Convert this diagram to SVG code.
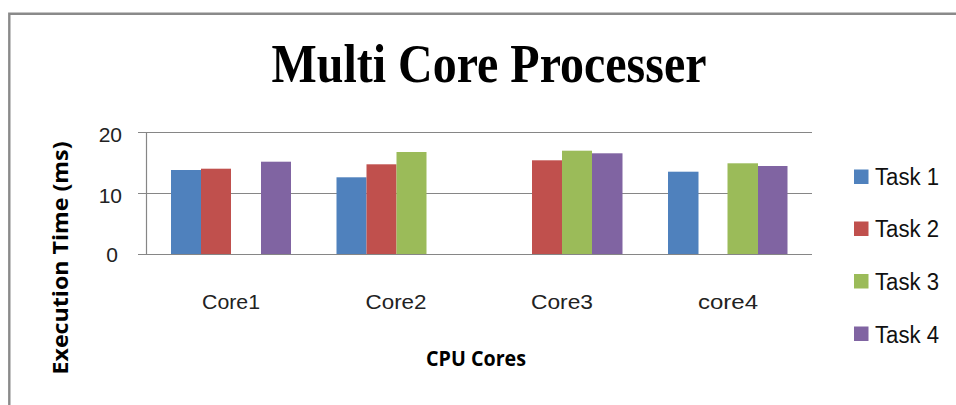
<svg xmlns="http://www.w3.org/2000/svg" width="956" height="405" viewBox="0 0 956 405">
<style>
.grid{stroke:#868686;stroke-width:1.2;fill:none}
.t1{fill:#4F81BD}.t2{fill:#C0504D}.t3{fill:#9BBB59}.t4{fill:#8064A2}
.lbl{font-family:"Liberation Sans",Arial,sans-serif;font-size:21px;fill:#222}
.bold{font-family:"Open Sans","Liberation Sans",Arial,sans-serif;font-weight:bold;font-size:21px;fill:#000}
.leg{font-family:"Liberation Sans",Arial,sans-serif;font-size:23px;fill:#111}
</style>
<rect width="956" height="405" fill="#fff"/>
<path d="M9.3 420 V13.8 H970" stroke="#8a8a8a" stroke-width="2.4" fill="none"/>
<g id="title">
<text x="489" y="82" text-anchor="middle" font-family="'Liberation Serif','Times New Roman',serif" font-weight="bold" font-size="54" textLength="435" lengthAdjust="spacingAndGlyphs">Multi Core Processer</text>
</g>
<g id="axes">
<path class="grid" d="M138 132.5 H812 M138 193.5 H812 M138 254.5 H812 M146.5 132 V254.5"/>
<text class="lbl" x="122" y="142" text-anchor="end">20</text>
<text class="lbl" x="122" y="203" text-anchor="end">10</text>
<text class="lbl" x="118" y="262" text-anchor="end">0</text>
<text class="bold" transform="translate(68,258) rotate(-90)" text-anchor="middle" textLength="233" lengthAdjust="spacingAndGlyphs">Execution Time (ms)</text>
<text class="bold" x="476" y="366" text-anchor="middle" textLength="100" lengthAdjust="spacingAndGlyphs">CPU Cores</text>
</g>
<g id="core1">
<rect class="t1" x="171" y="170" width="30" height="84"/>
<rect class="t2" x="201" y="168.7" width="30" height="85.3"/>
<rect class="t4" x="261" y="161.7" width="30" height="92.3"/>
<text class="lbl" x="231" y="309" text-anchor="middle" textLength="58" lengthAdjust="spacingAndGlyphs">Core1</text>
</g>
<g id="core2">
<rect class="t1" x="336.5" y="177.3" width="30" height="76.7"/>
<rect class="t2" x="366.5" y="164.3" width="30" height="89.7"/>
<rect class="t3" x="396.5" y="152" width="30" height="102"/>
<text class="lbl" x="396" y="309" text-anchor="middle" textLength="61" lengthAdjust="spacingAndGlyphs">Core2</text>
</g>
<g id="core3">
<rect class="t2" x="532" y="160.3" width="30" height="93.7"/>
<rect class="t3" x="562" y="150.7" width="30" height="103.3"/>
<rect class="t4" x="592" y="153.3" width="30.5" height="100.7"/>
<text class="lbl" x="562" y="309" text-anchor="middle" textLength="62" lengthAdjust="spacingAndGlyphs">Core3</text>
</g>
<g id="core4">
<rect class="t1" x="668" y="171.7" width="30.5" height="82.3"/>
<rect class="t3" x="727.5" y="163.3" width="30.5" height="90.7"/>
<rect class="t4" x="758" y="166" width="29.5" height="88"/>
<text class="lbl" x="728" y="309" text-anchor="middle" textLength="60" lengthAdjust="spacingAndGlyphs">core4</text>
</g>
<g id="legend">
<rect class="t1" x="854" y="169.5" width="14.5" height="14.5"/>
<text class="leg" x="875" y="185" textLength="64" lengthAdjust="spacingAndGlyphs">Task 1</text>
<rect class="t2" x="854" y="221.5" width="14.5" height="14.5"/>
<text class="leg" x="875" y="237" textLength="64" lengthAdjust="spacingAndGlyphs">Task 2</text>
<rect class="t3" x="854" y="274" width="14.5" height="14.5"/>
<text class="leg" x="875" y="290" textLength="64" lengthAdjust="spacingAndGlyphs">Task 3</text>
<rect class="t4" x="854" y="326.5" width="14.5" height="14.5"/>
<text class="leg" x="875" y="342.5" textLength="64" lengthAdjust="spacingAndGlyphs">Task 4</text>
</g>
</svg>
